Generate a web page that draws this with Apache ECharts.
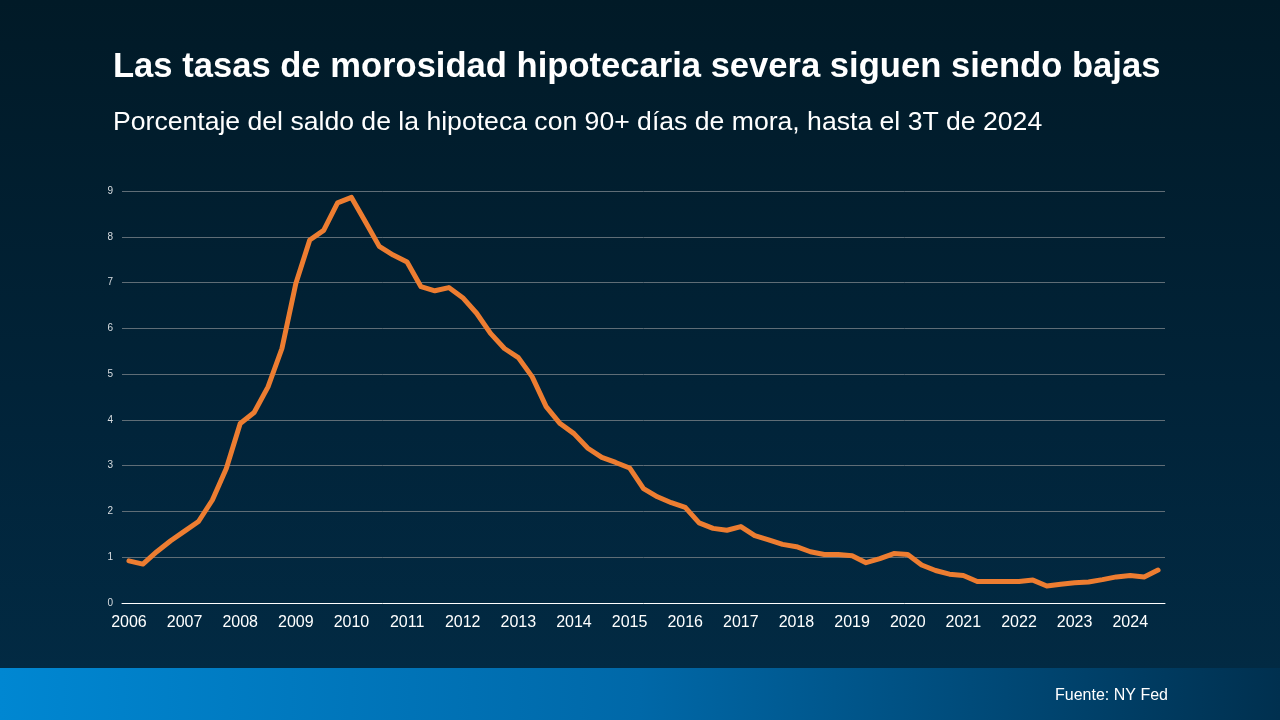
<!DOCTYPE html>
<html>
<head>
<meta charset="utf-8">
<script src="https://cdn.jsdelivr.net/npm/echarts@6/dist/echarts.min.js"></script>
<style>
html,body{margin:0;padding:0;width:1280px;height:720px;overflow:hidden;}
#chart{width:1280px;height:720px;background:linear-gradient(180deg,#011a27 0%,#01243a 60%,#022a43 93%);}
</style>
</head>
<body>
<div id="chart"></div>
<script>
const years = ["2006","2007","2008","2009","2010","2011","2012","2013","2014","2015","2016","2017","2018","2019","2020","2021","2022","2023","2024"];
const quarters = ["Q1","Q2","Q3","Q4"];
const values = [
  0.92,0.85,1.12,1.36, 1.57,1.78,2.25,2.94,
  3.92,4.16,4.72,5.56, 6.98,7.93,8.14,8.74,
  8.86,8.33,7.79,7.60, 7.45,6.91,6.82,6.89,
  6.67,6.33,5.89,5.56, 5.36,4.94,4.29,3.92,
  3.70,3.38,3.18,3.07, 2.95,2.50,2.32,2.19,
  2.09,1.75,1.63,1.59, 1.67,1.47,1.38,1.28,
  1.23,1.12,1.06,1.06, 1.03,0.88,0.97,1.08,
  1.06,0.83,0.71,0.63, 0.60,0.47,0.47,0.47,
  0.47,0.50,0.37,0.41, 0.44,0.46,0.51,0.57,
  0.60,0.57,0.72
];
const yTicks = [0,1,2,3,4,5,6,7,8,9];
const titleText = "Las tasas de morosidad hipotecaria severa siguen siendo bajas";
const subtitleText = "Porcentaje del saldo de la hipoteca con 90+ días de mora, hasta el 3T de 2024";
const sourceText = "Fuente: NY Fed";

const categories = [];
years.forEach(y => quarters.forEach(q => categories.push(y + " " + q)));
categories.length = values.length;

const chart = echarts.init(document.getElementById('chart'), null, {renderer:'canvas'});
const font = "'Liberation Sans', Arial, sans-serif";
chart.setOption({
  backgroundColor: 'transparent',
  animation: false,
  title: [
    {text: titleText, left: 108, top: 45, textStyle:{color:'#ffffff', fontSize:34.6, fontWeight:'bold', fontFamily:font}},
    {text: subtitleText, left: 108, top: 104, textStyle:{color:'#ffffff', fontSize:26.6, fontWeight:'normal', fontFamily:font}}
  ],
  graphic: [
    {type:'rect', left:0, top:668, shape:{width:1280, height:52}, z:0,
      style:{fill:new echarts.graphic.LinearGradient(0,0,1,0.3,[{offset:0,color:'#0087d2'},{offset:0.5,color:'#0068a8'},{offset:1,color:'#00304f'}])}},
    {type:'text', left:1055, top:688, z:1, style:{text:sourceText, fill:'#ffffff', font:"16px 'Liberation Sans', Arial, sans-serif"}}
  ],
  grid: {left:122, right:115, top:191, bottom:117, containLabel:false},
  xAxis: {
    type:'category', data: categories, boundaryGap:true,
    axisLine:{show:true, lineStyle:{color:'#ffffff', width:1}},
    axisTick:{show:false},
    axisLabel:{interval:3, color:'#ffffff', fontSize:16, fontFamily:font, margin:12,
      formatter: v => v.split(' ')[0]},
    splitLine:{show:false}
  },
  yAxis: {
    type:'value', min:0, max:9, interval:1,
    axisLine:{show:false}, axisTick:{show:false},
    axisLabel:{color:'#d9dde0', fontSize:10, fontFamily:font, margin:9,
      formatter: v => yTicks.includes(v) ? String(v) : ''},
    splitLine:{show:true, lineStyle:{color:'#5f6d76', width:1}}
  },
  series: [{
    type:'line', data: values, showSymbol:false, smooth:false,
    lineStyle:{color:'#ed7d31', width:5, join:'round', cap:'round'},
    itemStyle:{color:'#ed7d31'}
  }]
});
</script>
</body>
</html>
